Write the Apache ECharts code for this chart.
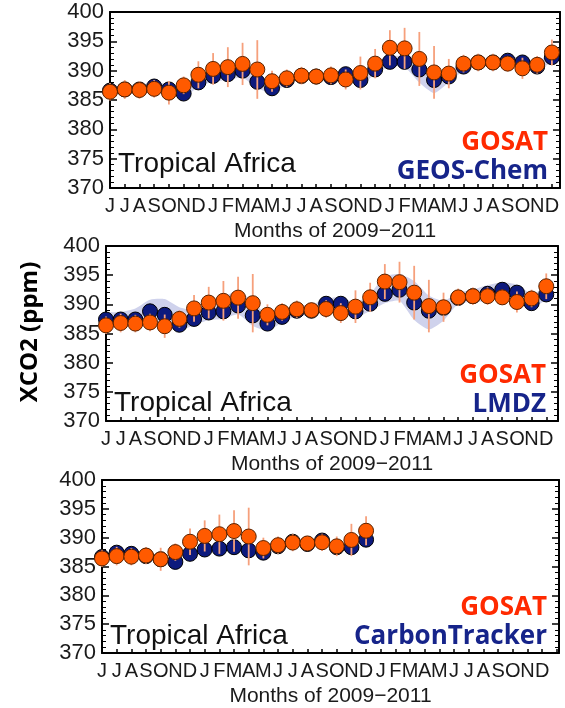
<!DOCTYPE html>
<html>
<head>
<meta charset="utf-8">
<script src="https://cdn.jsdelivr.net/npm/echarts@6/dist/echarts.min.js"></script>
<style>
html,body{margin:0;padding:0;background:#fff;}
#chart{width:565px;height:708px;}
</style>
</head>
<body>
<div id="chart"></div>
<script>
// ---------- data ----------
const months = ['J','J','A','S','O','N','D','J','F','M','A','M','J','J','A','S','O','N','D','J','F','M','A','M','J','J','A','S','O','N','D'];
const yTickMin = 370, yTickMax = 400, yTickStep = 5;
const regionName = 'Tropical Africa';
const xTitle = 'Months of 2009\u22122011';
const yTitle = 'XCO2 (ppm)';

const gosat = [386.4,386.8,386.7,386.9,386.25,387.5,389.3,390.3,390.6,391.15,390.2,388.2,388.7,389.15,389.0,389.2,388.5,389.6,391.2,393.9,393.8,392.0,389.7,389.5,391.2,391.4,391.4,391.2,390.4,391.0,393.1];
const gosatErr = [1.5,1.6,1.5,1.5,2.0,1.5,2.3,2.7,3.4,3.6,5.0,1.8,1.5,1.5,1.3,1.5,1.7,2.8,2.5,3.0,3.5,4.6,4.5,2.5,1.5,1.5,1.5,1.3,1.8,1.5,2.2];

const geosChem = [386.6,386.8,386.8,387.3,386.8,386.1,388.0,389.1,389.4,390.0,388.1,387.0,388.4,389.1,389.0,388.9,389.4,388.4,390.2,391.5,391.5,390.2,388.4,389.0,390.7,391.4,391.4,391.7,391.4,390.7,392.3];
const geosChemLow = [385.9,386.1,386.1,386.4,385.9,385.4,387.2,388.1,388.4,388.8,387.0,386.2,387.7,388.4,388.3,388.2,388.4,387.6,389.4,390.7,390.6,388.0,386.2,388.0,390.0,390.7,390.7,390.9,390.5,390.0,391.6];
const geosChemHigh = [387.3,387.5,387.6,388.0,387.7,387.3,389.0,390.1,390.6,391.2,389.6,388.0,389.1,389.7,389.6,389.6,390.3,389.6,391.0,392.4,392.5,391.5,389.5,389.9,391.5,392.1,392.1,392.4,392.2,391.6,393.1];

const lmdz = [387.4,387.4,387.4,388.8,388.2,386.5,387.5,388.6,388.8,389.8,388.1,386.7,387.85,388.9,388.9,390.1,390.1,388.8,390.1,391.8,392.5,390.3,388.9,389.4,391.1,391.4,391.8,392.5,392.0,390.2,391.7];
const lmdzLow = [386.3,386.3,386.2,386.8,386.5,385.5,386.4,387.3,387.5,388.3,386.3,385.5,386.9,388.0,388.0,389.0,388.8,387.7,388.9,390.2,390.6,387.3,385.7,387.2,390.1,390.4,390.5,391.0,390.3,389.4,390.9];
const lmdzHigh = [388.5,388.7,389.3,390.8,390.9,389.5,389.0,390.2,391.3,392.3,390.5,388.3,389.0,389.9,389.9,391.0,391.2,390.3,391.8,394.8,395.2,394.0,391.5,390.6,392.0,392.5,393.3,393.8,393.4,391.8,392.8];

const carbonTracker = [386.65,387.4,387.2,386.8,386.25,385.8,387.2,387.95,388.1,388.35,387.8,387.4,388.5,389.3,388.9,389.5,388.35,388.35,389.65];

// ---------- layout / style ----------
const panels = [
  {left:110, top:12,  width:450, height:176, xMax:30.55, model:geosChem, low:geosChemLow, high:geosChemHigh, name:'GEOS-Chem', taOff:24},
  {left:106, top:246, width:452, height:175, xMax:30.8,  model:lmdz, low:lmdzLow, high:lmdzHigh, name:'LMDZ', taOff:18},
  {left:102, top:480, width:457, height:173, xMax:31.15, model:carbonTracker, low:null, high:null, name:'CarbonTracker', taOff:17}
];
const ORANGE = '#ff5a00', NAVY = '#0d1a7d', ERR = '#f6a07c', BAND = '#cfd2ec';
const LABEL_FONT = 'Liberation Sans, Arial, sans-serif';

const grid = [], xAxis = [], yAxis = [], series = [], graphic = [];

panels.forEach((p, k) => {
  grid.push({left:p.left, top:p.top, width:p.width, height:p.height, show:false});
  // bottom x axis
  xAxis.push({
    gridIndex:k, type:'value', min:0, max:p.xMax, interval:1, position:'bottom',
    axisLine:{show:true, onZero:false, lineStyle:{color:'#000', width:2}},
    axisTick:{show:true, inside:true, length:4, lineStyle:{color:'#000', width:1.5}},
    axisLabel:{show:true, margin:8, fontSize:20, fontFamily:LABEL_FONT, color:'#1a1a1a',
      formatter: v => (Number.isInteger(v) && months[v] !== undefined) ? months[v] : ''},
    splitLine:{show:false},
    name: xTitle, nameLocation:'middle', nameGap:33,
    nameTextStyle:{fontSize:21, fontFamily:LABEL_FONT, color:'#1a1a1a'}
  });
  // top x axis (frame)
  xAxis.push({
    gridIndex:k, type:'value', min:0, max:p.xMax, position:'top',
    axisLine:{show:true, onZero:false, lineStyle:{color:'#000', width:2}},
    axisTick:{show:false}, axisLabel:{show:false}, splitLine:{show:false}
  });
  // left y axis
  yAxis.push({
    gridIndex:k, type:'value', min:yTickMin, max:yTickMax, interval:yTickStep, position:'left',
    axisLine:{show:true, onZero:false, lineStyle:{color:'#000', width:2}},
    axisTick:{show:true, inside:true, length:7, lineStyle:{color:'#000', width:1.5}},
    minorTick:{show:true, splitNumber:5, length:4, lineStyle:{color:'#000', width:1}},
    axisLabel:{show:true, margin:6, fontSize:22, fontFamily:LABEL_FONT, color:'#1a1a1a'},
    splitLine:{show:false}
  });
  // right y axis (frame)
  yAxis.push({
    gridIndex:k, type:'value', min:yTickMin, max:yTickMax, interval:yTickStep, position:'right',
    axisLine:{show:true, onZero:false, lineStyle:{color:'#000', width:2}},
    axisTick:{show:true, inside:true, length:7, lineStyle:{color:'#000', width:1.5}},
    minorTick:{show:true, splitNumber:5, length:4, lineStyle:{color:'#000', width:1}},
    axisLabel:{show:false}, splitLine:{show:false}
  });

  const xi = k*2, yi = k*2;
  const n = p.model.length;

  // model spread band
  if (p.low && p.high) {
    const lo = p.low, hi = p.high;
    series.push({
      type:'custom', xAxisIndex:xi, yAxisIndex:yi, silent:true, z:1,
      data:[[0, lo[0]]], encode:{x:0, y:1},
      renderItem:(params, api) => {
        const up = hi.map((v,i) => api.coord([i, v]));
        const dn = lo.map((v,i) => api.coord([i, v])).reverse();
        return {type:'polygon', shape:{points: up.concat(dn), smooth:0.2}, style:{fill:BAND}};
      }
    });
  }
  // model points
  series.push({
    type:'scatter', xAxisIndex:xi, yAxisIndex:yi, z:2, symbol:'circle', symbolSize:15,
    itemStyle:{color:NAVY, borderColor:'#000', borderWidth:1, opacity:1},
    data: p.model.map((v,i) => [i, v])
  });
  // GOSAT error bars
  series.push({
    type:'custom', xAxisIndex:xi, yAxisIndex:yi, silent:true, z:3,
    data: gosat.slice(0, n).map((v,i) => [i, v, gosatErr[i]]),
    encode:{x:0, y:1},
    renderItem:(params, api) => {
      const x = api.value(0), y = api.value(1), e = api.value(2);
      const a = api.coord([x, y - e]), b = api.coord([x, y + e]);
      return {type:'line', shape:{x1:a[0], y1:a[1], x2:b[0], y2:b[1]}, style:{stroke:ERR, lineWidth:1.8}};
    }
  });
  // GOSAT points
  series.push({
    type:'scatter', xAxisIndex:xi, yAxisIndex:yi, z:4, symbol:'circle', symbolSize:15,
    itemStyle:{color:ORANGE, borderColor:'#5a2200', borderWidth:1, opacity:1},
    data: gosat.slice(0, n).map((v,i) => [i, v])
  });

  const bottom = p.top + p.height;
  const right = p.left + p.width;
  graphic.push({type:'text', x:p.left + 8, y:bottom - p.taOff, z:10,
    style:{text:regionName, font:'28px ' + LABEL_FONT, fill:'#111',
      align:'left', verticalAlign:'middle', textAlign:'left', textVerticalAlign:'middle'}});
  graphic.push({type:'text', x:right - 12, y:bottom - 45, z:10,
    style:{text:'GOSAT', font:'bold 26px "Open Sans"', fill:'#ff2a00',
      align:'right', verticalAlign:'middle', textAlign:'right', textVerticalAlign:'middle'}});
  graphic.push({type:'text', x:right - 12, y:bottom - 16, z:10,
    style:{text:p.name, font:'bold 26px "Open Sans"', fill:'#16248a',
      align:'right', verticalAlign:'middle', textAlign:'right', textVerticalAlign:'middle'}});
});

graphic.push({type:'text', x:30, y:332, rotation:Math.PI/2, z:10,
  style:{text:yTitle, font:'bold 24px "Open Sans"', fill:'#000',
    align:'center', verticalAlign:'middle', textAlign:'center', textVerticalAlign:'middle'}});

const chart = echarts.init(document.getElementById('chart'), null, {renderer:'canvas'});
chart.setOption({
  animation:false,
  backgroundColor:'#fff',
  grid, xAxis, yAxis, series, graphic
});
</script>
</body>
</html>
